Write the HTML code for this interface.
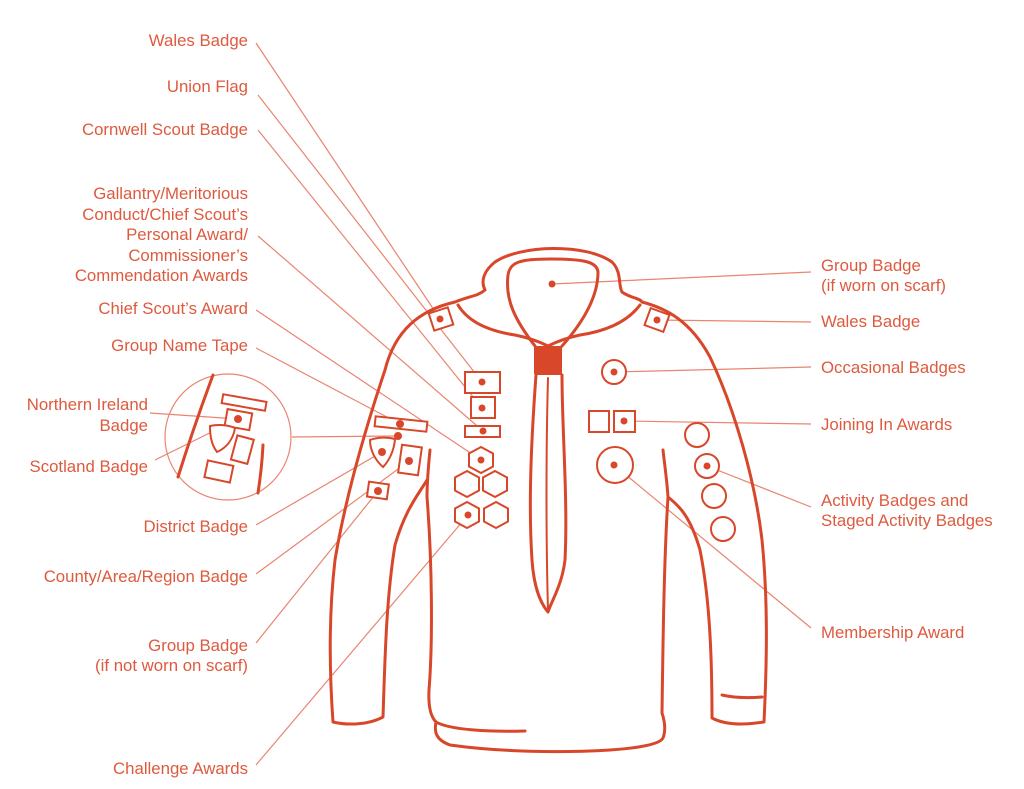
<!DOCTYPE html>
<html><head><meta charset="utf-8"><style>
html,body{margin:0;padding:0;background:#fff;}
svg{display:block;}
text{font-family:"Liberation Sans",sans-serif;font-size:16.8px;fill:#de5a3f;}
.l{stroke:#e98570;stroke-width:1.2;fill:none;}
.s{stroke:#d8472a;stroke-width:3;fill:none;stroke-linecap:round;stroke-linejoin:round;}
.b{stroke:#d8472a;stroke-width:2;fill:#fff;}
.d{fill:#d8472a;}
</style></head><body>
<svg width="1024" height="789" viewBox="0 0 1024 789" xmlns="http://www.w3.org/2000/svg">
<g class="l">
<line x1="256" y1="43" x2="440" y2="319"/>
<line x1="258" y1="95" x2="482" y2="382"/>
<line x1="258" y1="130" x2="482" y2="408"/>
<line x1="258" y1="236" x2="483" y2="431"/>
<line x1="256" y1="310" x2="481" y2="460"/>
<line x1="256" y1="348" x2="400" y2="424"/>
<line x1="150" y1="413" x2="238" y2="419"/>
<line x1="155" y1="460" x2="238" y2="419"/>
<line x1="256" y1="525" x2="382" y2="452"/>
<line x1="256" y1="574" x2="409" y2="461"/>
<line x1="256" y1="643" x2="378" y2="491"/>
<line x1="256" y1="765" x2="468" y2="515"/>
<line x1="292" y1="437" x2="398" y2="436"/>
<line x1="552" y1="284" x2="811" y2="272"/>
<line x1="657" y1="320" x2="811" y2="322"/>
<line x1="614" y1="372" x2="811" y2="367"/>
<line x1="624" y1="421" x2="811" y2="424"/>
<line x1="707" y1="466" x2="811" y2="507"/>
<line x1="614" y1="465" x2="811" y2="628"/>
<circle cx="228" cy="437" r="63"/>
</g>
<g class="s">
<path d="M455,302 C470,296 478,296 485,290 C480,280 485,270 495,262 C520,245 585,243 612,262 C622,272 618,285 622,292 C630,298 640,298 642,302"/>
<path d="M455,302 C420,310 395,330 385,370 C365,430 345,500 335,560 C328,620 330,680 333,722 C350,726 370,724 383,717 C385,660 386,600 395,545 C405,510 418,495 427,480"/>
<path d="M430,450 C428,470 427,490 427,497 C432,560 433,640 429,690 C428,710 432,718 436,722 C450,730 490,732 525,731"/>
<path d="M436,722 C434,732 436,740 450,745 C500,752 560,753 610,750 C640,748 660,744 663,738 C666,730 665,722 662,713 C663,640 664,560 668,497 C667,480 664,460 663,450"/>
<path d="M642,302 C665,308 690,320 710,357 C735,410 755,480 762,540 C768,600 767,660 764,722 C745,725 725,725 712,718 C712,660 710,600 700,550 C690,515 678,505 668,497"/>
<path d="M722,695 C735,698 750,698 762,697"/>
<path d="M458,305 C470,325 495,332 515,335 C530,338 540,342 548,346 C556,342 566,338 580,335 C600,332 625,325 640,305"/>
<path d="M535,346 C515,320 505,300 508,275 C510,262 520,259 550,259 C585,259 597,262 598,272 C598,295 585,320 562,346"/>
<path d="M536,375 C532,430 528,500 532,560 C534,590 542,605 548,612 C552,600 562,585 565,560 C568,500 562,430 562,375"/>
<path d="M548,378 C546,450 546,540 548,610" style="stroke-width:2"/>
</g>
<rect x="534" y="346" width="28" height="29" rx="2" class="d"/>
<g class="b">
<rect x="431" y="310" width="20" height="18" transform="rotate(-18 441 319)"/>
<rect x="647" y="311" width="20" height="18" transform="rotate(20 657 320)"/>
<rect x="465" y="372" width="35" height="21"/>
<rect x="471" y="397" width="24" height="21"/>
<rect x="465" y="426" width="35" height="11"/>
<polygon points="481,447 493,453.5 493,466.5 481,473 469,466.5 469,453.5"/>
<polygon points="467,471 479,477.5 479,490.5 467,497 455,490.5 455,477.5"/>
<polygon points="495,471 507,477.5 507,490.5 495,497 483,490.5 483,477.5"/>
<polygon points="467,502 479,508.5 479,521.5 467,528 455,521.5 455,508.5"/>
<polygon points="496,502 508,508.5 508,521.5 496,528 484,521.5 484,508.5"/>
<circle cx="614" cy="372" r="12"/>
<rect x="589" y="411" width="20" height="21"/>
<rect x="614" y="411" width="21" height="21"/>
<circle cx="615" cy="465" r="18"/>
<circle cx="697" cy="435" r="12"/>
<circle cx="707" cy="466" r="12"/>
<circle cx="714" cy="496" r="12"/>
<circle cx="723" cy="529" r="12"/>
<rect x="375" y="419" width="52" height="10" transform="rotate(6 401 424)"/>
<path d="M370,440 C378,437 388,437 395,439 C394,452 388,462 383,467 C375,460 370,450 370,440Z"/>
<rect x="400" y="446" width="20" height="28" transform="rotate(8 410 460)"/>
<rect x="368" y="483" width="20" height="15" transform="rotate(8 378 490)"/>
<rect x="222" y="398" width="44" height="9" transform="rotate(10 244 403)"/>
<rect x="226" y="411" width="25" height="17" transform="rotate(10 238 419)"/>
<path d="M210,426 C218,424 228,425 235,428 C233,440 226,448 217,452 C211,444 210,435 210,426Z"/>
<rect x="234" y="437" width="17" height="25" transform="rotate(15 242 449)"/>
<rect x="206" y="463" width="26" height="17" transform="rotate(12 219 471)"/>
</g>
<g class="s"><path d="M213,375 C200,410 188,445 178,477"/><path d="M263,445 C262,465 260,480 258,493"/></g>
<g class="d">
<circle cx="440" cy="319" r="3.5"/><circle cx="657" cy="320" r="3.5"/>
<circle cx="482" cy="382" r="3.5"/><circle cx="482" cy="408" r="3.5"/><circle cx="483" cy="431" r="3.5"/>
<circle cx="481" cy="460" r="3.5"/><circle cx="468" cy="515" r="3.5"/>
<circle cx="552" cy="284" r="3.5"/><circle cx="614" cy="372" r="3.5"/><circle cx="624" cy="421" r="3.5"/>
<circle cx="614" cy="465" r="3.5"/><circle cx="707" cy="466" r="3.5"/>
<circle cx="400" cy="424" r="4"/><circle cx="398" cy="436" r="4"/><circle cx="382" cy="452" r="4"/>
<circle cx="409" cy="461" r="4"/><circle cx="378" cy="491" r="4"/><circle cx="238" cy="419" r="4"/>
</g>
<g text-anchor="end">
<text x="248" y="46">Wales Badge</text>
<text x="248" y="92">Union Flag</text>
<text x="248" y="135">Cornwell Scout Badge</text>
<text x="248" y="199">Gallantry/Meritorious</text>
<text x="248" y="220">Conduct/Chief Scout’s</text>
<text x="248" y="240">Personal Award/</text>
<text x="248" y="261">Commissioner’s</text>
<text x="248" y="281">Commendation Awards</text>
<text x="248" y="314">Chief Scout’s Award</text>
<text x="248" y="351">Group Name Tape</text>
<text x="148" y="410">Northern Ireland</text>
<text x="148" y="431">Badge</text>
<text x="148" y="472">Scotland Badge</text>
<text x="248" y="532">District Badge</text>
<text x="248" y="582">County/Area/Region Badge</text>
<text x="248" y="651">Group Badge</text>
<text x="248" y="671">(if not worn on scarf)</text>
<text x="248" y="774">Challenge Awards</text>
</g>
<text x="821" y="271">Group Badge</text>
<text x="821" y="291">(if worn on scarf)</text>
<text x="821" y="327">Wales Badge</text>
<text x="821" y="373">Occasional Badges</text>
<text x="821" y="430">Joining In Awards</text>
<text x="821" y="506">Activity Badges and</text>
<text x="821" y="526">Staged Activity Badges</text>
<text x="821" y="638">Membership Award</text>
</svg>
</body></html>
